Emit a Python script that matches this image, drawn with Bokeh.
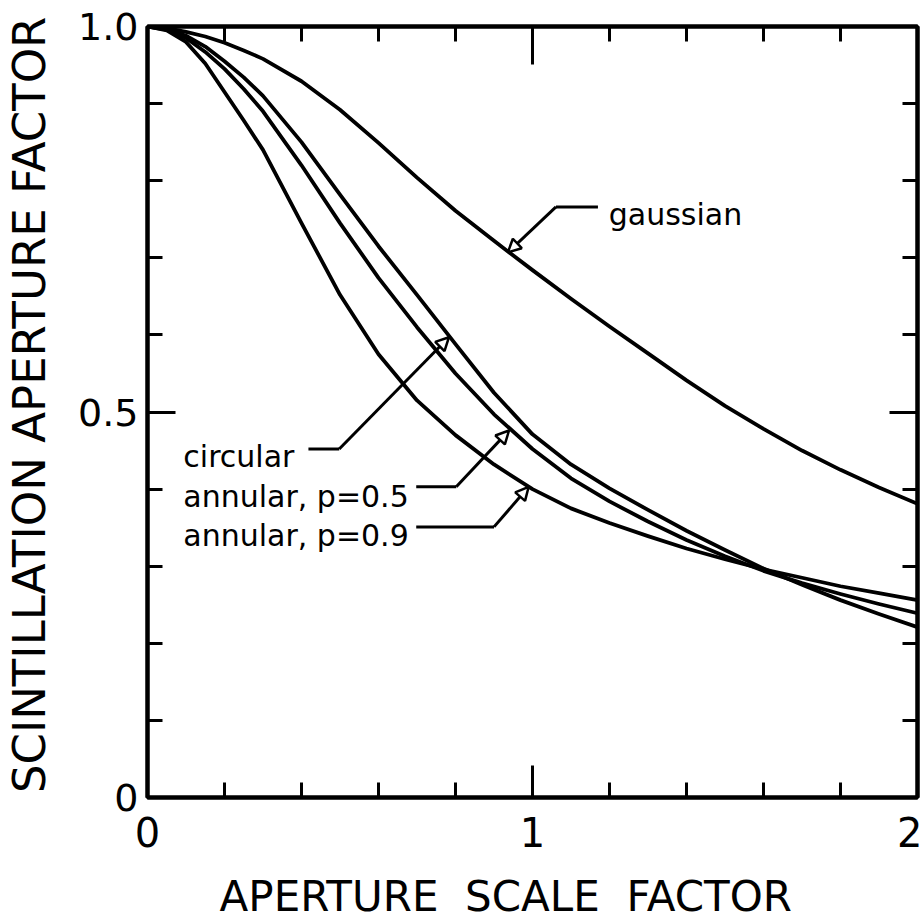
from bokeh.plotting import figure
from bokeh.models import Range1d, FixedTicker, LinearAxis, Arrow, NormalHead, Label
from bokeh.embed import file_html
from bokeh.resources import INLINE

# ---- data ----
aperture_scale = [0.0, 0.05, 0.1, 0.15, 0.2, 0.25, 0.3, 0.4, 0.5, 0.6, 0.7, 0.8, 0.9, 1.0,
                  1.1, 1.2, 1.3, 1.4, 1.5, 1.6, 1.7, 1.8, 1.9, 2.0]
gaussian = [1.0, 0.998, 0.993, 0.987, 0.979, 0.969, 0.958, 0.929, 0.892, 0.849, 0.804,
            0.761, 0.722, 0.684, 0.647, 0.611, 0.576, 0.541, 0.508, 0.478, 0.45, 0.425,
            0.402, 0.381]
circular = [1.0, 0.997, 0.988, 0.974, 0.955, 0.934, 0.91, 0.85, 0.782, 0.715, 0.652,
            0.588, 0.525, 0.471, 0.432, 0.401, 0.373, 0.346, 0.321, 0.297, 0.276, 0.256,
            0.238, 0.221]
annular_p05 = [1.0, 0.996, 0.985, 0.967, 0.945, 0.919, 0.89, 0.82, 0.745, 0.674, 0.61,
               0.55, 0.497, 0.452, 0.414, 0.384, 0.358, 0.334, 0.313, 0.294, 0.278, 0.264,
               0.251, 0.239]
annular_p09 = [1.0, 0.995, 0.98, 0.952, 0.915, 0.878, 0.84, 0.745, 0.652, 0.575, 0.515,
               0.47, 0.432, 0.40, 0.375, 0.356, 0.339, 0.323, 0.309, 0.296, 0.285, 0.274,
               0.265, 0.256]

x_major = [0, 1, 2]
x_minor = [0.2, 0.4, 0.6, 0.8, 1.2, 1.4, 1.6, 1.8]
y_major = [0, 0.5, 1.0]
y_minor = [0.1, 0.2, 0.3, 0.4, 0.6, 0.7, 0.8, 0.9]
y_major_labels = {0: "0", 0.5: "0.5", 1: "1.0"}

labels = ["gaussian", "circular", "annular, p=0.5", "annular, p=0.9"]

FONT = "DejaVu Sans"
NB = "\u00a0"

p = figure(width=922, height=923, output_backend="svg", toolbar_location=None,
           x_range=Range1d(0, 2), y_range=Range1d(0, 1),
           min_border_left=146, min_border_right=5, min_border_top=26, min_border_bottom=123)
p.background_fill_color = "white"
p.border_fill_color = "white"
p.outline_line_color = "black"
p.outline_line_width = 4
p.grid.visible = False

def style_axis(ax, major, minor, major_len, show_labels):
    ax.ticker = FixedTicker(ticks=major, minor_ticks=minor)
    ax.axis_line_width = 4
    ax.axis_line_color = "black"
    ax.major_tick_in = major_len
    ax.major_tick_out = 0
    ax.minor_tick_in = 15
    ax.minor_tick_out = 0
    ax.major_tick_line_width = 3
    ax.minor_tick_line_width = 3
    ax.major_tick_line_color = "black"
    ax.minor_tick_line_color = "black"
    if not show_labels:
        ax.major_label_text_font_size = "8px"
        ax.major_label_text_alpha = 0
        ax.major_label_standoff = 0

xb = p.xaxis[0]
style_axis(xb, x_major, x_minor, 32, True)
xb.major_label_text_font = FONT
xb.major_label_text_font_size = "40px"
xb.major_label_text_color = "black"
xb.major_label_standoff = 19
xb.axis_label = "APERTURE" + NB * 2 + "SCALE" + NB * 2 + "FACTOR" + NB * 4
xb.axis_label_text_font = FONT
xb.axis_label_text_font_size = "42px"
xb.axis_label_text_font_style = "normal"
xb.axis_label_text_color = "black"
xb.axis_label_standoff = 22

yl = p.yaxis[0]
style_axis(yl, y_major, y_minor, 28, True)
yl.major_label_overrides = y_major_labels
yl.major_label_text_font = FONT
yl.major_label_text_font_size = "38px"
yl.major_label_text_color = "black"
yl.major_label_standoff = 9
yl.major_label_orientation = "horizontal"
yl.axis_label = NB + "SCINTILLATION" + NB + "APERTURE" + NB + "FACTOR"
yl.axis_label_text_font = FONT
yl.axis_label_text_font_size = "45px"
yl.axis_label_text_font_style = "normal"
yl.axis_label_text_color = "black"
yl.axis_label_standoff = 19

top = LinearAxis()
style_axis(top, x_major, x_minor, 38, False)
p.add_layout(top, "above")
right = LinearAxis()
style_axis(right, y_major, y_minor, 28, False)
p.add_layout(right, "right")

# ---- curves ----
for ys in (gaussian, circular, annular_p05, annular_p09):
    p.line(aperture_scale, ys, line_color="black", line_width=3.8, line_join="round")

# ---- annotations ----
ann = [
    (labels[0], 1.198, 0.756, [1.170, 1.061, 0.936], [0.766, 0.766, 0.707]),
    (labels[1], 0.093, 0.442, [0.418, 0.498, 0.783], [0.452, 0.452, 0.597]),
    (labels[2], 0.093, 0.391, [0.698, 0.802, 0.939], [0.403, 0.403, 0.476]),
    (labels[3], 0.093, 0.340, [0.698, 0.900, 0.990], [0.351, 0.351, 0.403]),
]
for text, tx, ty, lx, ly in ann:
    p.add_layout(Label(x=tx, y=ty, text=text, text_font=FONT, text_font_size="30px",
                       text_baseline="alphabetic", text_align="left", text_color="black"))
    p.line(lx[:-1], ly[:-1], line_color="black", line_width=3, line_join="round")
    p.add_layout(Arrow(end=NormalHead(size=13, fill_color="white", line_color="black", line_width=2.5),
                       x_start=lx[-2], y_start=ly[-2], x_end=lx[-1], y_end=ly[-1],
                       line_color="black", line_width=3))

open("out.html", "w").write(file_html(p, INLINE))
